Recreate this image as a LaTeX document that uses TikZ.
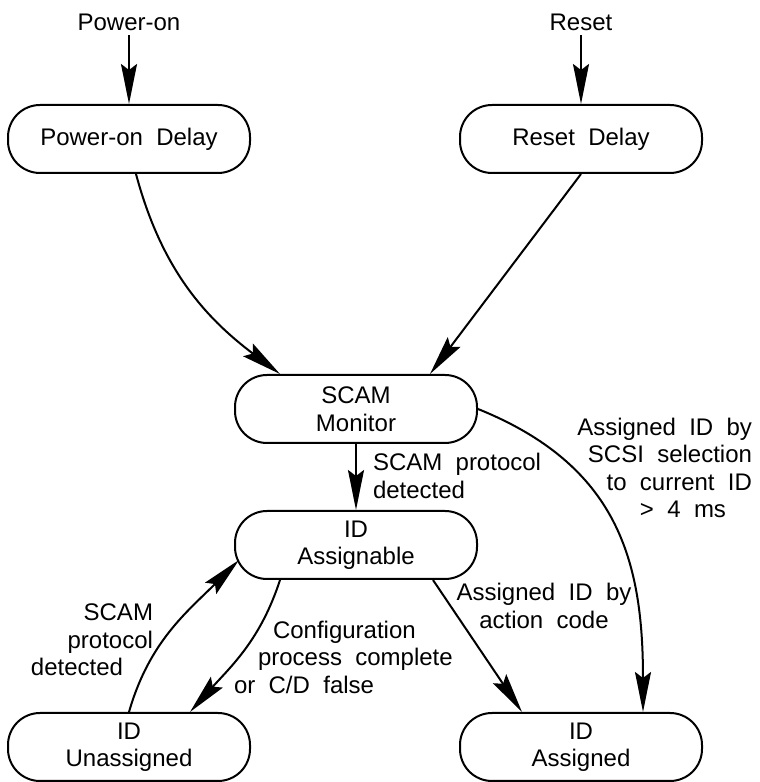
\documentclass[tikz,border=0pt]{standalone}
\usepackage{fontspec}
\setmainfont{Liberation Sans}
\usetikzlibrary{arrows.meta,calc}
\begin{document}
\begin{tikzpicture}[x=0.5pt,y=0.5pt,line width=1pt,font=\fontsize{12}{13.75}\selectfont,
  state/.style={draw,rounded corners=16pt,minimum width=121pt,minimum height=34pt,align=center,inner sep=0pt},
  lbl/.style={inner sep=2pt},
  arr/.style={-{Stealth[length=20pt,width=8pt,inset=3pt]}}]
\useasboundingbox (0,0) rectangle (760,782);
\node[lbl] (pon) at (129,760) {Power-on};
\node[lbl] (rst) at (581,760) {Reset};
\node[state] (pod) at (129,643) {Power-on\ \ Delay};
\node[state] (rsd) at (581,643) {Reset\ \ Delay};
\node[state] (mon) at (356,373) {SCAM\\Monitor};
\node[state] (asg) at (356,237) {ID\\Assignable};
\node[state] (una) at (129,35) {ID\\Unassigned};
\node[state] (asd) at (581,35) {ID\\Assigned};
\node[lbl,anchor=west,align=left] (ldet) at (368,306) {SCAM\ \ protocol\\detected};
\node[lbl,anchor=west,align=left] (lcfg) at (229,125) {\hspace*{19.5pt}Configuration\\\hspace*{12pt}process\ \ complete\\or\ \ C/D\ \ false};
\node[lbl,anchor=east,align=right] (lret) at (158,142) {SCAM\\protocol\hspace*{7.5pt}\\detected\hspace*{15pt}};
\node[lbl,align=center] (lact) at (544,176) {Assigned\ \ ID\ \ by\\action\ \ code};
\node[lbl,anchor=east,align=right] (lsel) at (757,314) {Assigned\ \ ID\ \ by\\SCSI\ \ selection\\to\ \ current\ \ ID\\>\ \ 4\ \ ms\hspace*{13pt}};
\draw[arr] (pon) -- (pod);
\draw[arr] (rst) -- (rsd);
\draw[arr] ($(pod.south)+(7,0)$) to[out=-75,in=143] ($(mon.north)+(-76,0)$);
\draw[arr] (rsd.south) -- ($(mon.north)+(74,0)$);
\draw[arr] (mon) -- (asg);
\draw[arr] ($(asg.south)+(-76,0)$) to[out=-108,in=48] ($(una.north)+(61,0)$);
\draw[arr] (una.north) to[out=74,in=225] ($(asg.west)+(5,-15)$);
\draw[arr] ($(asg.south)+(77,0)$) -- ($(asd.north)+(-59,0)$);
\draw[arr] (mon.east) to[out=-22,in=90,looseness=1.12] ($(asd.north)+(62,0)$);
\end{tikzpicture}
\end{document}
